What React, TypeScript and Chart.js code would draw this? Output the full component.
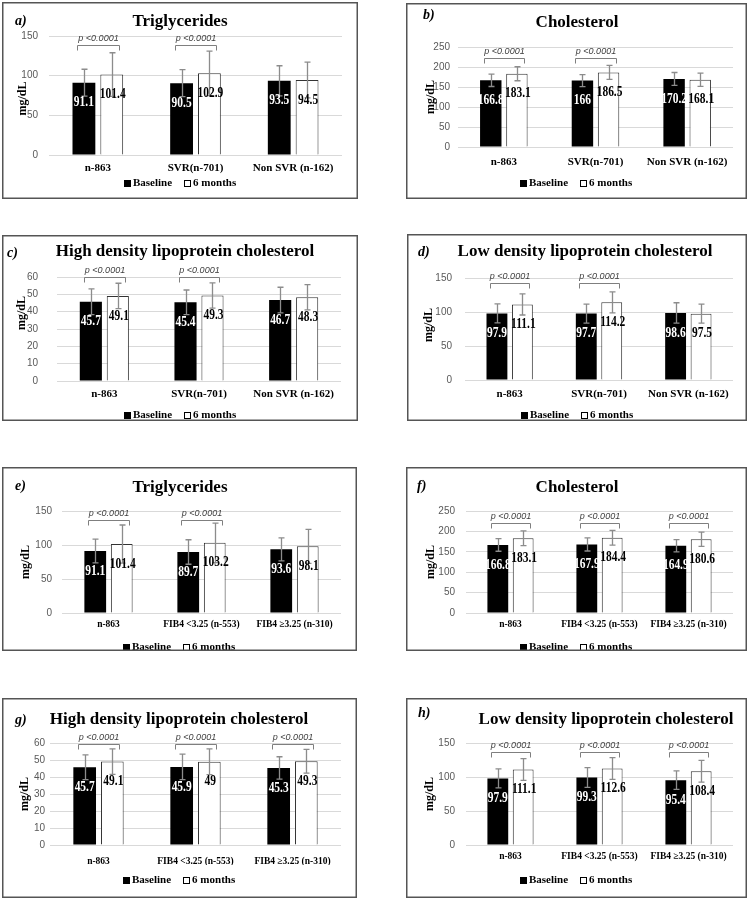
import React, { useEffect, useRef } from "react";
import { Chart, registerables } from "chart.js";
Chart.register(...registerables);

// ---------- data ----------
const categoriesSVR = ["n-863", "SVR(n-701)", "Non SVR (n-162)"];
const categoriesFIB4 = ["n-863", "FIB4 <3.25 (n-553)", "FIB4 ≥3.25 (n-310)"];
const seriesNames = ["Baseline", "6 months"];
const pValueText = "p <0.0001";
const yAxisTitle = "mg/dL";

const ticksTG = [0, 50, 100, 150];
const ticksChol = [0, 50, 100, 150, 200, 250];
const ticksHDL = [0, 10, 20, 30, 40, 50, 60];
const ticksLDL = [0, 50, 100, 150];

// a) Triglycerides by SVR
const tgSvrBaseline = [91.1, 90.5, 93.5];
const tgSvr6m = [101.4, 102.9, 94.5];
const tgSvrBaselineSd = [17, 17, 19];
const tgSvr6mSd = [27.5, 28, 22.5];
// b) Cholesterol by SVR
const cholSvrBaseline = [166.8, 166, 170.2];
const cholSvr6m = [183.1, 186.5, 168.1];
const cholSvrBaselineSd = [15.5, 15, 16];
const cholSvr6mSd = [17.5, 17.5, 16.5];
// c) HDL by SVR
const hdlSvrBaseline = [45.7, 45.4, 46.7];
const hdlSvr6m = [49.1, 49.3, 48.3];
const hdlSvrBaselineSd = [7.4, 7.1, 7.4];
const hdlSvr6mSd = [7.3, 7.3, 7.3];
// d) LDL by SVR
const ldlSvrBaseline = [97.9, 97.7, 98.6];
const ldlSvr6m = [111.1, 114.2, 97.5];
const ldlSvrBaselineSd = [14, 14, 15];
const ldlSvr6mSd = [15.5, 15.5, 14];
// e) Triglycerides by FIB4
const tgFibBaseline = [91.1, 89.7, 93.6];
const tgFib6m = [101.4, 103.2, 98.1];
const tgFibBaselineSd = [17.5, 18, 17];
const tgFib6mSd = [28, 29, 25];
// f) Cholesterol by FIB4
const cholFibBaseline = [166.8, 167.9, 164.9];
const cholFib6m = [183.1, 184.4, 180.6];
const cholFibBaselineSd = [15.5, 16, 15];
const cholFib6mSd = [18, 18, 17.5];
// g) HDL by FIB4
const hdlFibBaseline = [45.7, 45.9, 45.3];
const hdlFib6m = [49.1, 49, 49.3];
const hdlFibBaselineSd = [7.3, 7.5, 6.6];
const hdlFib6mSd = [7.5, 7.6, 7];
// h) LDL by FIB4
const ldlFibBaseline = [97.9, 99.3, 95.4];
const ldlFib6m = [111.1, 112.6, 108.4];
const ldlFibBaselineSd = [14, 14.5, 13.5];
const ldlFib6mSd = [16, 16, 16];

// significance brackets: categories + level (data value)
const bracketsTwo = [0, 1];
const bracketsThree = [0, 1, 2];
const bracketLevels = [139, 222, 60, 143, 137, 220, 59.5, 137];

const titles = [
  "Triglycerides",
  "Cholesterol",
  "High density lipoprotein cholesterol",
  "Low density lipoprotein cholesterol",
  "Triglycerides",
  "Cholesterol",
  "High density lipoprotein cholesterol",
  "Low density lipoprotein cholesterol",
];
const letters = ["a)", "b)", "c)", "d)", "e)", "f)", "g)", "h)"];

// ---------- layout (positions / styles) ----------
type Layout = {
  x: number; y: number; w: number; h: number;
  caL: number; caT: number; caR: number; caB: number;
  yTickPad: number; xTickPad: number; catFont: number;
  titleX: number; titleY: number; letterX: number; letterY: number;
  yTitleX: number; yTitleDy: number; legendY: number;
};
const layouts: Layout[] = [
  { x: 2, y: 2, w: 356, h: 197, caL: 47, caT: 34, caR: 340, caB: 153, yTickPad: 11, xTickPad: 6.5, catFont: 11, titleX: 178, titleY: 20, letterX: 13, letterY: 19, yTitleX: 21, yTitleDy: 3, legendY: 181 },
  { x: 406, y: 3, w: 341, h: 196, caL: 52, caT: 44, caR: 327, caB: 144, yTickPad: 8, xTickPad: 8.5, catFont: 11, titleX: 171, titleY: 20, letterX: 17, letterY: 12, yTitleX: 25, yTitleDy: 0, legendY: 180 },
  { x: 2, y: 235, w: 356, h: 186, caL: 55, caT: 42, caR: 339, caB: 146, yTickPad: 19, xTickPad: 6.5, catFont: 11, titleX: 183, titleY: 17, letterX: 5, letterY: 18, yTitleX: 20, yTitleDy: -16, legendY: 180 },
  { x: 407, y: 234, w: 340, h: 187, caL: 58, caT: 44, caR: 326, caB: 146, yTickPad: 13, xTickPad: 7.5, catFont: 11, titleX: 178, titleY: 18, letterX: 11, letterY: 18, yTitleX: 22, yTitleDy: -4, legendY: 181 },
  { x: 2, y: 467, w: 355, h: 184, caL: 60, caT: 44, caR: 339, caB: 146, yTickPad: 10, xTickPad: 6.3, catFont: 9.5, titleX: 178, titleY: 21, letterX: 13, letterY: 19, yTitleX: 24, yTitleDy: 0, legendY: 180 },
  { x: 406, y: 467, w: 341, h: 184, caL: 60, caT: 44, caR: 327, caB: 146, yTickPad: 11, xTickPad: 6.3, catFont: 9.5, titleX: 171, titleY: 21, letterX: 11, letterY: 19, yTitleX: 25, yTitleDy: 0, legendY: 180 },
  { x: 2, y: 698, w: 355, h: 200, caL: 48, caT: 45, caR: 339, caB: 147, yTickPad: 5, xTickPad: 11, catFont: 9.5, titleX: 177, titleY: 22, letterX: 13, letterY: 22, yTitleX: 23, yTitleDy: 0, legendY: 182 },
  { x: 406, y: 698, w: 341, h: 200, caL: 60, caT: 45, caR: 327, caB: 147, yTickPad: 11, xTickPad: 6.3, catFont: 9.5, titleX: 200, titleY: 22, letterX: 12, letterY: 15, yTitleX: 24, yTitleDy: 0, legendY: 182 },
];

type PanelData = {
  cats: string[]; base: number[]; six: number[]; baseSd: number[]; sixSd: number[];
  ticks: number[]; brackets: number[];
};
const panelData: PanelData[] = [
  { cats: categoriesSVR, base: tgSvrBaseline, six: tgSvr6m, baseSd: tgSvrBaselineSd, sixSd: tgSvr6mSd, ticks: ticksTG, brackets: bracketsTwo },
  { cats: categoriesSVR, base: cholSvrBaseline, six: cholSvr6m, baseSd: cholSvrBaselineSd, sixSd: cholSvr6mSd, ticks: ticksChol, brackets: bracketsTwo },
  { cats: categoriesSVR, base: hdlSvrBaseline, six: hdlSvr6m, baseSd: hdlSvrBaselineSd, sixSd: hdlSvr6mSd, ticks: ticksHDL, brackets: bracketsTwo },
  { cats: categoriesSVR, base: ldlSvrBaseline, six: ldlSvr6m, baseSd: ldlSvrBaselineSd, sixSd: ldlSvr6mSd, ticks: ticksLDL, brackets: bracketsTwo },
  { cats: categoriesFIB4, base: tgFibBaseline, six: tgFib6m, baseSd: tgFibBaselineSd, sixSd: tgFib6mSd, ticks: ticksTG, brackets: bracketsTwo },
  { cats: categoriesFIB4, base: cholFibBaseline, six: cholFib6m, baseSd: cholFibBaselineSd, sixSd: cholFib6mSd, ticks: ticksChol, brackets: bracketsThree },
  { cats: categoriesFIB4, base: hdlFibBaseline, six: hdlFib6m, baseSd: hdlFibBaselineSd, sixSd: hdlFib6mSd, ticks: ticksHDL, brackets: bracketsThree },
  { cats: categoriesFIB4, base: ldlFibBaseline, six: ldlFib6m, baseSd: ldlFibBaselineSd, sixSd: ldlFib6mSd, ticks: ticksLDL, brackets: bracketsThree },
];

const SERIF = '"Liberation Serif", "Times New Roman", serif';
const SANS = '"Liberation Sans", Arial, sans-serif';
const Y_AXIS_W = 30;
const X_AXIS_H = 20;

function Panel({ idx }: { idx: number }) {
  const ref = useRef<HTMLCanvasElement | null>(null);
  const L = layouts[idx];
  const D = panelData[idx];

  useEffect(() => {
    if (!ref.current) return;
    const decor = {
      id: "decor" + idx,
      beforeDraw(chart: any) {
        const ctx = chart.ctx;
        ctx.save();
        ctx.fillStyle = "#fff";
        ctx.fillRect(0, 0, L.w, L.h);
        ctx.restore();
      },
      afterDatasetsDraw(chart: any) {
        const ctx = chart.ctx;
        const ys = chart.scales.y;
        const sds = [D.baseSd, D.sixSd];
        ctx.save();
        // error bars
        for (let di = 0; di < 2; di++) {
          const meta = chart.getDatasetMeta(di);
          const vals = chart.data.datasets[di].data as number[];
          meta.data.forEach((el: any, i: number) => {
            const x = Math.round(el.x) + 0.5;
            const t = ys.getPixelForValue(vals[i] + sds[di][i]);
            const b = ys.getPixelForValue(vals[i] - sds[di][i]);
            ctx.strokeStyle = "#8c8c8c";
            ctx.lineWidth = 1.3;
            ctx.beginPath();
            ctx.moveTo(x, t); ctx.lineTo(x, b);
            ctx.moveTo(x - 3, t); ctx.lineTo(x + 3, t);
            ctx.moveTo(x - 3, b); ctx.lineTo(x + 3, b);
            ctx.stroke();
          });
        }
        // value labels
        for (let di = 0; di < 2; di++) {
          const meta = chart.getDatasetMeta(di);
          const vals = chart.data.datasets[di].data as number[];
          meta.data.forEach((el: any, i: number) => {
            ctx.save();
            ctx.translate(el.x + (di === 1 ? 1 : 0), el.y + 20);
            ctx.scale(0.82, 1);
            ctx.font = `bold 14px ${SERIF}`;
            ctx.textAlign = "center";
            ctx.textBaseline = "middle";
            ctx.fillStyle = di === 0 ? "#fff" : "#000";
            ctx.fillText(String(vals[i]), 0, 0);
            ctx.restore();
          });
        }
        // brackets
        const m0 = chart.getDatasetMeta(0);
        const m1 = chart.getDatasetMeta(1);
        const yb = Math.round(ys.getPixelForValue(bracketLevels[idx])) + 0.5;
        D.brackets.forEach((c) => {
          const xl = Math.round(m0.data[c].x - 7) + 0.5;
          const xr = Math.round(m1.data[c].x + 7) + 0.5;
          ctx.strokeStyle = "#7f7f7f";
          ctx.lineWidth = 1;
          ctx.beginPath();
          ctx.moveTo(xl, yb + 5); ctx.lineTo(xl, yb); ctx.lineTo(xr, yb); ctx.lineTo(xr, yb + 5);
          ctx.stroke();
          ctx.font = `italic 9px ${SANS}`;
          ctx.fillStyle = "#404040";
          ctx.textAlign = "center";
          ctx.textBaseline = "middle";
          ctx.fillText(pValueText, (xl + xr) / 2, yb - 7);
        });
        ctx.restore();
      },
      afterDraw(chart: any) {
        const ctx = chart.ctx;
        const ca = chart.chartArea;
        ctx.save();
        // title
        ctx.fillStyle = "#000";
        ctx.font = `bold 17px ${SERIF}`;
        ctx.textAlign = "center";
        ctx.textBaseline = "middle";
        ctx.fillText(titles[idx], L.titleX, L.titleY);
        // letter
        ctx.font = `italic bold 14px ${SERIF}`;
        ctx.textAlign = "left";
        ctx.fillText(letters[idx], L.letterX, L.letterY);
        // y axis title
        ctx.save();
        ctx.translate(L.yTitleX, (ca.top + ca.bottom) / 2 + L.yTitleDy);
        ctx.rotate(-Math.PI / 2);
        ctx.font = `bold 12px ${SERIF}`;
        ctx.textAlign = "center";
        ctx.fillText(yAxisTitle, 0, 0);
        ctx.restore();
        // legend
        ctx.font = `bold 11px ${SERIF}`;
        ctx.textAlign = "left";
        ctx.textBaseline = "middle";
        const names = chart.data.datasets.map((d: any) => d.label);
        const sq = 7, g1 = 2, g2 = 12;
        const w1 = ctx.measureText(names[0]).width;
        const w2 = ctx.measureText(names[1]).width;
        const total = sq + g1 + w1 + g2 + sq + g1 + w2;
        let x = Math.round(L.w / 2 - total / 2);
        const y = L.legendY;
        ctx.fillStyle = "#000";
        ctx.fillRect(x, Math.round(y - sq / 2), sq, sq);
        x += sq + g1;
        ctx.fillText(names[0], x, y + 0.5);
        x += w1 + g2;
        ctx.strokeStyle = "#000";
        ctx.lineWidth = 1;
        ctx.strokeRect(Math.round(x) + 0.5, Math.round(y - sq / 2) + 0.5, sq - 1, sq - 1);
        x += sq + g1;
        ctx.fillText(names[1], x, y + 0.5);
        // border
        ctx.strokeStyle = "#555";
        ctx.lineWidth = 1.5;
        ctx.strokeRect(0.75, 0.75, L.w - 1.5, L.h - 1.5);
        ctx.restore();
      },
    };

    const ticks = D.ticks;
    const chart = new Chart(ref.current, {
      type: "bar",
      data: {
        labels: D.cats,
        datasets: [
          { label: seriesNames[0], data: D.base, backgroundColor: "#000", borderColor: "#000", borderWidth: 0 },
          { label: seriesNames[1], data: D.six, backgroundColor: "#fff", borderColor: "#333", borderWidth: 1 },
        ],
      },
      options: {
        responsive: false,
        animation: false,
        devicePixelRatio: 1,
        layout: {
          padding: {
            left: L.caL - Y_AXIS_W,
            top: L.caT,
            right: L.w - L.caR,
            bottom: L.h - L.caB - X_AXIS_H,
          },
        },
        datasets: { bar: { categoryPercentage: 0.57, barPercentage: 0.82 } } as any,
        plugins: { legend: { display: false }, title: { display: false }, tooltip: { enabled: false } },
        scales: {
          x: {
            grid: { display: false, drawTicks: false },
            border: { display: false },
            ticks: {
              font: { family: SERIF, size: L.catFont, weight: "bold" },
              color: "#000",
              padding: L.xTickPad,
              maxRotation: 0,
              autoSkip: false,
            },
            afterFit: (s: any) => { s.height = X_AXIS_H; s.paddingLeft = 0; s.paddingRight = 0; },
          },
          y: {
            min: ticks[0],
            max: ticks[ticks.length - 1],
            ticks: {
              stepSize: ticks[1] - ticks[0],
              font: { family: SANS, size: 10 },
              color: "#595959",
              padding: L.yTickPad,
            },
            grid: { color: "#d9d9d9", drawTicks: false, lineWidth: 1 },
            border: { display: false },
            afterFit: (s: any) => { s.width = Y_AXIS_W; },
          },
        },
      } as any,
      plugins: [decor],
    });
    return () => chart.destroy();
  }, []);

  return (
    <canvas
      ref={ref}
      width={L.w}
      height={L.h}
      style={{ position: "absolute", left: L.x, top: L.y, width: L.w, height: L.h }}
    />
  );
}

export default function App() {
  return (
    <div style={{ position: "absolute", left: 0, top: 0, width: 750, height: 900, background: "#fff" }}>
      {layouts.map((_, i) => (
        <Panel key={i} idx={i} />
      ))}
    </div>
  );
}
